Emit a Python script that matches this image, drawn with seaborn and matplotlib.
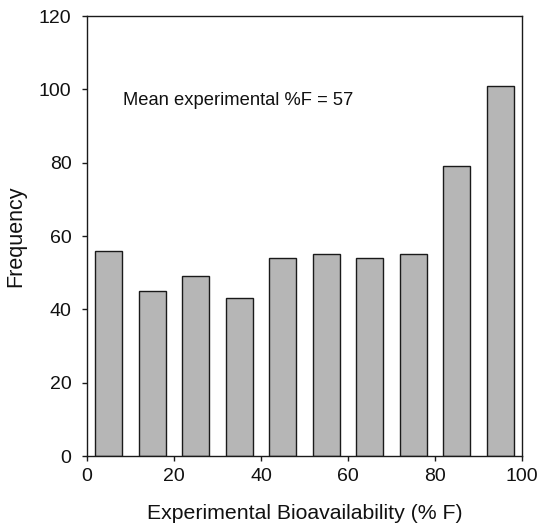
import matplotlib
matplotlib.use("Agg")
import matplotlib.pyplot as plt
import seaborn as sns
import pandas as pd

bin_centers = [5, 15, 25, 35, 45, 55, 65, 75, 85, 95]
frequency = [56, 45, 49, 43, 54, 55, 54, 55, 79, 101]
x_ticks = [0, 20, 40, 60, 80, 100]
y_ticks = [0, 20, 40, 60, 80, 100, 120]

sns.set_style("ticks")
plt.rcParams['font.family'] = ['Liberation Sans', 'DejaVu Sans']

df = pd.DataFrame({"F": bin_centers, "n": frequency})

fig = plt.figure(figsize=(5.42, 5.31), dpi=100)
ax = fig.add_axes([0.1605, 0.1412, 0.8026, 0.8286])
sns.histplot(data=df, x="F", weights="n", binwidth=10, binrange=(0, 100),
             shrink=0.62, color="#b6b6b6", edgecolor="#1a1a1a", linewidth=1.0,
             alpha=1.0, ax=ax)
ax.set_xlim(0, 100)
ax.set_ylim(0, 120)
ax.set_xticks(x_ticks)
ax.set_yticks(y_ticks)
ax.tick_params(labelsize=14, direction="out", length=3.6, width=1,
               colors="#1a1a1a", labelcolor="#111111", pad=5)
ax.tick_params(axis="y", pad=7.5)
for s in ax.spines.values():
    s.set_visible(True)
    s.set_linewidth(1.0)
    s.set_color("#1a1a1a")
ax.set_xlabel("Experimental Bioavailability (% F)", fontsize=15.3, labelpad=14,
              color="#111111")
ax.set_ylabel("Frequency", fontsize=15.5, labelpad=9, color="#111111")
ax.text(8.3, 97.0, "Mean experimental %F = 57", fontsize=13.2, va="center",
        ha="left", color="#111111")
fig.savefig("out.png", dpi=100)
